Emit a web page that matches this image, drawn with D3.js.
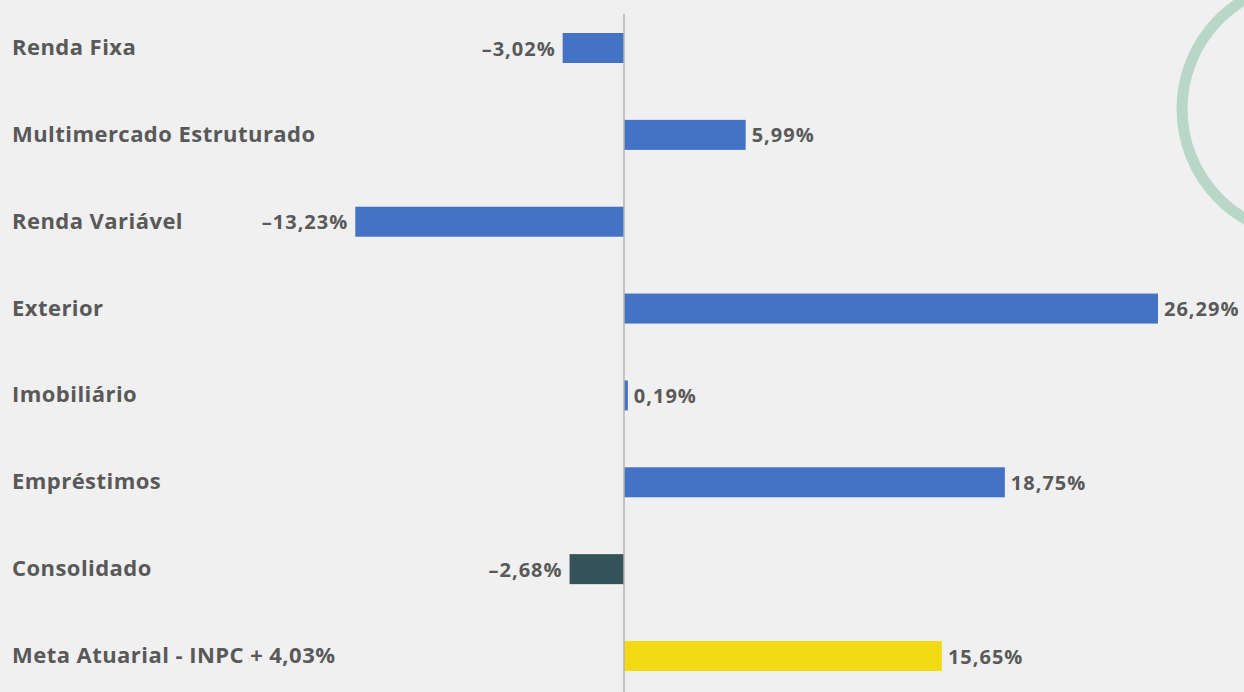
<!DOCTYPE html>
<html>
<head>
<meta charset="utf-8">
<script src="https://cdn.jsdelivr.net/npm/d3@7"></script>
<style>
  html, body { margin: 0; padding: 0; background: #f0f0f0; }
  svg { display: block; }
  text { font-family: "Open Sans", Lato, sans-serif; font-weight: 700; fill: #595959; }
</style>
</head>
<body>
<div id="chart"></div>
<script>
const WIDTH = 1244;
const HEIGHT = 692;

const categories = [
  "Renda Fixa",
  "Multimercado Estruturado",
  "Renda Variável",
  "Exterior",
  "Imobiliário",
  "Empréstimos",
  "Consolidado",
  "Meta Atuarial - INPC + 4,03%"
];
const values = [-3.02, 5.99, -13.23, 26.29, 0.19, 18.75, -2.68, 15.65];
const barColors = ["#4472c4", "#4472c4", "#4472c4", "#4472c4", "#4472c4", "#4472c4", "#34545a", "#f2da14"];

const fmt = v => (v < 0 ? "\u2013" : "") + d3.format(".2f")(Math.abs(v)).replace(".", ",") + "%";

const svg = d3.select("#chart").append("svg")
  .attr("width", WIDTH)
  .attr("height", HEIGHT);

svg.append("rect").attr("width", WIDTH).attr("height", HEIGHT).attr("fill", "#f0f0f0");

// decorative ring, top right
svg.append("circle")
  .attr("cx", 1309).attr("cy", 109).attr("r", 127)
  .attr("fill", "none").attr("stroke", "#b9d7c9").attr("stroke-width", 11);

// scales
const x = d3.scaleLinear().domain([0, 26.29]).range([624, 1158]);
const y = d3.scalePoint().domain(categories).range([48, 656]);
const barH = 30;

// bars
svg.append("g").selectAll("rect")
  .data(values)
  .join("rect")
    .attr("x", d => Math.min(x(0), x(d)))
    .attr("y", (d, i) => y(categories[i]) - barH / 2)
    .attr("width", d => Math.abs(x(d) - x(0)))
    .attr("height", barH)
    .attr("fill", (d, i) => barColors[i]);

// zero line
svg.append("line")
  .attr("x1", x(0)).attr("x2", x(0))
  .attr("y1", 14).attr("y2", HEIGHT)
  .attr("stroke", "#b4b4b4").attr("stroke-width", 1.5);

// category labels
svg.append("g").selectAll("text")
  .data(categories)
  .join("text")
    .attr("x", 12)
    .attr("y", d => y(d) - 2)
    .attr("dominant-baseline", "central")
    .style("font-size", "22px")
    .style("letter-spacing", "0.45px")
    .text(d => d);

// value labels
svg.append("g").selectAll("text")
  .data(values)
  .join("text")
    .attr("x", d => d < 0 ? x(d) - 7 : x(d) + 6)
    .attr("y", (d, i) => y(categories[i]))
    .attr("dominant-baseline", "central")
    .attr("text-anchor", d => d < 0 ? "end" : "start")
    .style("font-size", "20px")
    .style("letter-spacing", "1px")
    .text(d => fmt(d));
</script>
</body>
</html>
